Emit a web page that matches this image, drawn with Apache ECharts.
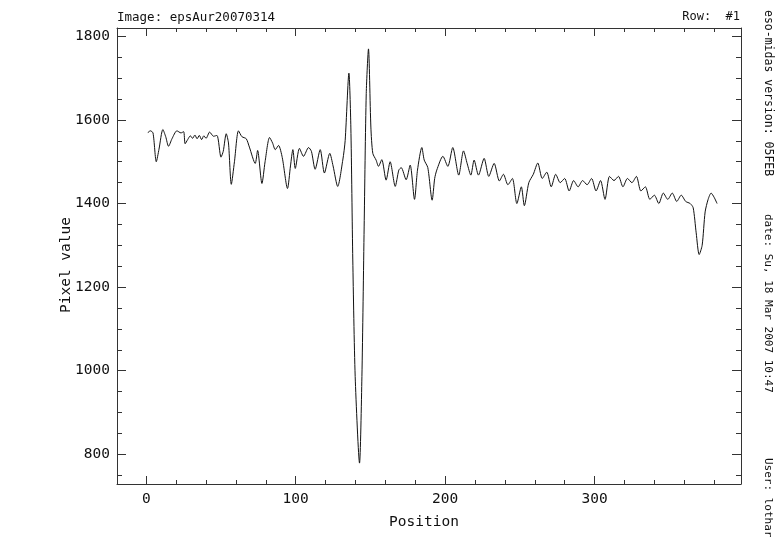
<!DOCTYPE html>
<html>
<head>
<meta charset="utf-8">
<script src="https://cdn.jsdelivr.net/npm/echarts@6/dist/echarts.min.js"></script>
<style>html,body{margin:0;padding:0;background:#fff;}#c{width:782px;height:542px;}</style>
</head>
<body>
<div id="c"></div>
<script>
// Position (x) and pixel value (y)
const positions = [0.9,2.7,4.5,6.7,8.5,11.1,13,14.9,17.2,20.5,23.2,25,26,27.7,29.5,31,32.5,34,35.5,37,38.5,40,42.4,45,47.3,50,51.5,53.5,55,56.9,59,61.7,64,66.9,69,72.9,74.5,77.4,79.5,82.5,84.5,86.3,88.5,91,94.5,96.5,98.1,99.7,102.5,105.2,108.6,110.5,113,116.4,119.2,122.8,125,128.1,131.5,133.1,135.6,136.9,138.2,139.8,142.7,144.3,145.8,147.2,148.7,150.3,151.6,153.8,155.4,157.6,160.5,163.2,166.6,169,170.6,173.9,176.6,179.5,181.5,184.4,186,188.4,191.3,193,194.4,198.5,201.8,205.1,209.1,212.3,214.8,217.2,219.4,222.3,226.1,229.2,232.8,236.3,239,242,245,248,251,253,256,259,262,265,268,271,274,277,280,283,286,289,292,295,298,301,304,307,310,313,316,319,322,325,328,331,334,337,340,343,346,349,352,355,358,361,364,366,368,370,372,374,376,378,380,382];
const pixelValues = [1569,1574,1569,1500,1530,1577,1560,1537,1555,1574,1569,1572,1543,1553,1562,1556,1564,1555,1563,1553,1562,1556,1571,1561,1563,1511,1525,1567,1545,1446,1500,1574,1560,1555,1535,1496,1527,1448,1500,1558,1545,1529,1539,1510,1436,1490,1529,1484,1532,1513,1534,1525,1482,1529,1473,1520,1490,1441,1504,1551,1712,1583,1265,986,779,986,1344,1663,1770,1583,1520,1504,1489,1505,1456,1500,1441,1480,1486,1457,1492,1410,1480,1534,1504,1486,1408,1460,1480,1513,1489,1534,1468,1526,1495,1468,1504,1468,1508,1465,1496,1454,1470,1445,1460,1400,1440,1395,1450,1470,1497,1460,1475,1440,1470,1450,1460,1430,1455,1440,1455,1445,1460,1430,1455,1410,1465,1455,1465,1440,1460,1450,1465,1430,1440,1410,1420,1400,1425,1410,1425,1405,1420,1405,1400,1390,1330,1278,1300,1380,1410,1425,1415,1400];
const xMajorTicks = [0,100,200,300];
const xMinorTicks = [0,20,40,60,80,100,120,140,160,180,200,220,240,260,280,300,320,340,360,380];
const yMajorTicks = [800,1000,1200,1400,1600,1800];
const yMinorTicks = [750,800,850,900,950,1000,1050,1100,1150,1200,1250,1300,1350,1400,1450,1500,1550,1600,1650,1700,1750,1800];

const X_MIN = -19.6, X_MAX = 398, Y_MIN = 729, Y_MAX = 1820;
const FONT = 'DejaVu Sans Mono';
const lineColor = '#333';

const seriesData = positions.map((p, i) => [p, pixelValues[i]]);
const plain = v => String(v);

function xAx(pos, ticks, len, showLine, showLabel) {
  return {
    type: 'value', position: pos, min: X_MIN, max: X_MAX,
    axisLine: {show: showLine, onZero: false, lineStyle: {color: lineColor, width: 1}},
    axisTick: {show: true, inside: true, length: len, customValues: ticks, lineStyle: {color: lineColor, width: 1}},
    axisLabel: {show: showLabel, customValues: ticks, formatter: plain, color: '#111', fontFamily: FONT, fontSize: 14.5, margin: 8},
    splitLine: {show: false}
  };
}
function yAx(pos, ticks, len, showLine, showLabel) {
  return {
    type: 'value', position: pos, min: Y_MIN, max: Y_MAX,
    axisLine: {show: showLine, onZero: false, lineStyle: {color: lineColor, width: 1}},
    axisTick: {show: true, inside: true, length: len, customValues: ticks, lineStyle: {color: lineColor, width: 1}},
    axisLabel: {show: showLabel, customValues: ticks, formatter: plain, color: '#111', fontFamily: FONT, fontSize: 14.5, margin: 7},
    splitLine: {show: false}
  };
}

const chart = echarts.init(document.getElementById('c'), null, {renderer: 'canvas'});
chart.setOption({
  animation: false,
  backgroundColor: '#fff',
  grid: {left: 117, top: 28, width: 624, height: 456, containLabel: false},
  xAxis: [
    xAx('bottom', xMajorTicks, 8, true, true),
    xAx('bottom', xMinorTicks, 4, false, false),
    xAx('top', xMajorTicks, 8, true, false),
    xAx('top', xMinorTicks, 4, false, false)
  ],
  yAxis: [
    yAx('left', yMajorTicks, 9, true, true),
    yAx('left', yMinorTicks, 5, false, false),
    yAx('right', yMajorTicks, 9, true, false),
    yAx('right', yMinorTicks, 5, false, false)
  ],
  series: [{
    type: 'line', xAxisIndex: 0, yAxisIndex: 0,
    data: seriesData, showSymbol: false, smooth: 0.25,
    lineStyle: {color: '#111', width: 1}
  }],
  graphic: [
    {type: 'text', left: 117, top: 11, style: {text: 'Image: epsAur20070314', font: '12.5px "DejaVu Sans Mono"', fill: '#111'}},
    {type: 'text', right: 42, top: 11, style: {text: 'Row:  #1', font: '12px "DejaVu Sans Mono"', fill: '#111'}},
    {type: 'text', x: 66, y: 265, rotation: Math.PI / 2, style: {text: 'Pixel value', font: '14.5px "DejaVu Sans Mono"', fill: '#111', align: 'center', verticalAlign: 'middle'}},
    {type: 'text', x: 424, y: 522, style: {text: 'Position', font: '14.5px "DejaVu Sans Mono"', fill: '#111', align: 'center', verticalAlign: 'middle'}},
    {type: 'text', x: 768, y: 10, rotation: -Math.PI / 2, style: {text: 'eso-midas version: 05FEB', font: '11.5px "DejaVu Sans Mono"', fill: '#111', align: 'left', verticalAlign: 'middle'}},
    {type: 'text', x: 768, y: 214, rotation: -Math.PI / 2, style: {text: 'date: Su, 18 Mar 2007 10:47', font: '11px "DejaVu Sans Mono"', fill: '#111', align: 'left', verticalAlign: 'middle'}},
    {type: 'text', x: 768, y: 458, rotation: -Math.PI / 2, style: {text: 'User: lothar', font: '11px "DejaVu Sans Mono"', fill: '#111', align: 'left', verticalAlign: 'middle'}}
  ]
});
</script>
</body>
</html>
